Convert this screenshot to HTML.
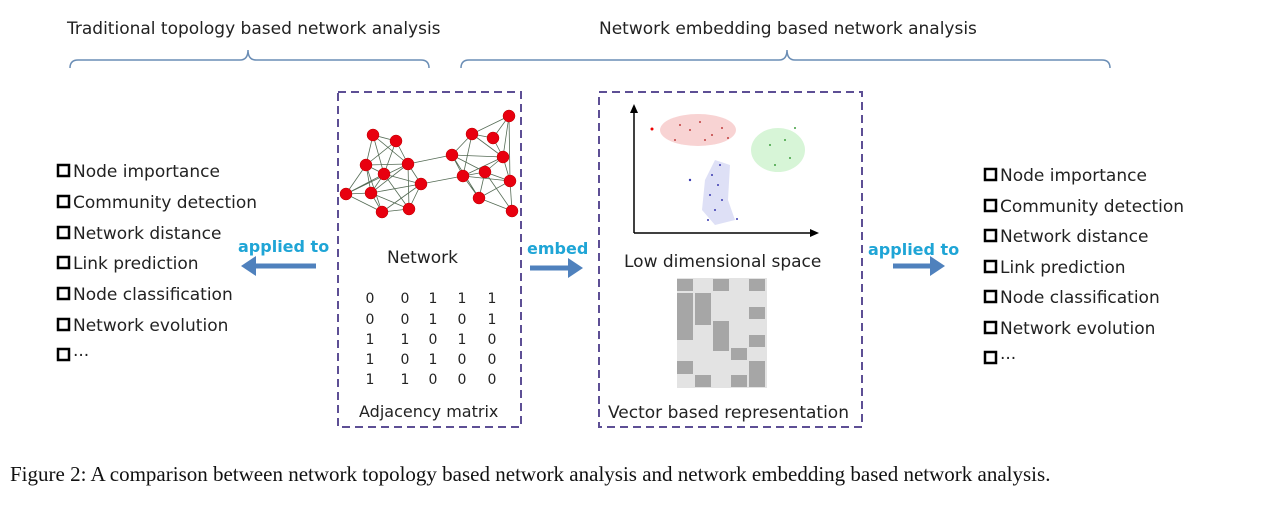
<!DOCTYPE html>
<html><head><meta charset="utf-8"><style>
body{margin:0;background:#fff;}
svg{display:block;}
text{font-family:"DejaVu Sans","Liberation Sans",sans-serif;}
</style></head><body>
<svg width="1261" height="509" viewBox="0 0 1261 509" xmlns="http://www.w3.org/2000/svg">
<defs>
<marker id="ah" markerWidth="4" markerHeight="4" refX="2" refY="2" orient="auto" markerUnits="strokeWidth"><path d="M0,0 L3,2 L0,4 z" fill="#4f81bd"/></marker>
</defs>
<text x="67" y="34" font-size="17" fill="#222">Traditional topology based network analysis</text>
<text x="599" y="34" font-size="17" fill="#222">Network embedding based network analysis</text>
<path d="M70,68 Q70,60 78,60 L240,60 Q248,60 248,50 Q248,60 256,60 L421,60 Q429,60 429,68" fill="none" stroke="#6a8db5" stroke-width="1.5"/>
<path d="M461,68 Q461,60 469,60 L779,60 Q787,60 787,50 Q787,60 795,60 L1102,60 Q1110,60 1110,68" fill="none" stroke="#6a8db5" stroke-width="1.5"/>

<g font-size="17" fill="#222">
<g id="l">
<text x="73" y="177">Node importance</text>
<text x="73" y="208">Community detection</text>
<text x="73" y="239">Network distance</text>
<text x="73" y="269">Link prediction</text>
<text x="73" y="300">Node classification</text>
<text x="73" y="331">Network evolution</text>
<text x="73" y="361">···</text>
</g>
<g fill="none" stroke="#000" stroke-width="2.5">
<rect x="58" y="165" width="11" height="11"/><rect x="58" y="196" width="11" height="11"/><rect x="58" y="227" width="11" height="11"/><rect x="58" y="257" width="11" height="11"/><rect x="58" y="288" width="11" height="11"/><rect x="58" y="319" width="11" height="11"/><rect x="58" y="349" width="11" height="11"/>
</g>
<text x="1000" y="181">Node importance</text>
<text x="1000" y="212">Community detection</text>
<text x="1000" y="242">Network distance</text>
<text x="1000" y="273">Link prediction</text>
<text x="1000" y="303">Node classification</text>
<text x="1000" y="334">Network evolution</text>
<text x="1000" y="364">···</text>
<g fill="none" stroke="#000" stroke-width="2.5">
<rect x="985" y="169" width="11" height="11"/><rect x="985" y="200" width="11" height="11"/><rect x="985" y="230" width="11" height="11"/><rect x="985" y="261" width="11" height="11"/><rect x="985" y="291" width="11" height="11"/><rect x="985" y="322" width="11" height="11"/><rect x="985" y="352" width="11" height="11"/>
</g>
</g>

<g font-size="16" font-weight="bold" fill="#1fa5d6">
<text x="238" y="252">applied to</text>
<text x="527" y="254">embed</text>
<text x="868" y="255">applied to</text>
</g>
<line x1="316" y1="266" x2="246" y2="266" stroke="#4f81bd" stroke-width="5" marker-end="url(#ah)"/>
<line x1="530" y1="268" x2="578" y2="268" stroke="#4f81bd" stroke-width="5" marker-end="url(#ah)"/>
<line x1="893" y1="266" x2="940" y2="266" stroke="#4f81bd" stroke-width="5" marker-end="url(#ah)"/>

<rect x="338" y="92" width="183" height="335" fill="none" stroke="#5d4f95" stroke-width="2" stroke-dasharray="8,5"/>
<rect x="599" y="92" width="263" height="335" fill="none" stroke="#5d4f95" stroke-width="2" stroke-dasharray="8,5"/>

<g stroke="#556b55" stroke-width="0.8">
<path d="M373,135L396,141M373,135L366,165M373,135L384,174M373,135L408,164M396,141L408,164M396,141L384,174M396,141L366,165M366,165L384,174M366,165L408,164M366,165L346,194M366,165L371,193M366,165L382,212M384,174L371,193M384,174L421,184M384,174L409,209M384,174L346,194M408,164L421,184M408,164L409,209M408,164L371,193M408,164L452,155M421,184L409,209M421,184L382,212M421,184L371,193M421,184L463,176M346,194L371,193M346,194L382,212M346,194L408,164M371,193L382,212M382,212L409,209M371,193L409,209"/>
<path d="M452,155L472,134M452,155L463,176M452,155L485,172M452,155L503,157M452,155L479,198M472,134L493,138M472,134L509,116M472,134L463,176M472,134L503,157M493,138L509,116M493,138L503,157M509,116L503,157M509,116L510,181M503,157L485,172M503,157L510,181M503,157L463,176M463,176L485,172M463,176L479,198M463,176L510,181M485,172L510,181M485,172L479,198M485,172L512,211M510,181L512,211M479,198L512,211M479,198L510,181M463,176L503,157"/>
</g>
<g fill="#e8000f" stroke="#b00" stroke-width="0.5">
<circle cx="373" cy="135" r="6"/><circle cx="396" cy="141" r="6"/><circle cx="366" cy="165" r="6"/><circle cx="384" cy="174" r="6"/><circle cx="408" cy="164" r="6"/><circle cx="421" cy="184" r="6"/><circle cx="346" cy="194" r="6"/><circle cx="371" cy="193" r="6"/><circle cx="382" cy="212" r="6"/><circle cx="409" cy="209" r="6"/><circle cx="452" cy="155" r="6"/><circle cx="472" cy="134" r="6"/><circle cx="493" cy="138" r="6"/><circle cx="509" cy="116" r="6"/><circle cx="503" cy="157" r="6"/><circle cx="463" cy="176" r="6"/><circle cx="485" cy="172" r="6"/><circle cx="510" cy="181" r="6"/><circle cx="479" cy="198" r="6"/><circle cx="512" cy="211" r="6"/>
</g>

<text x="387" y="263" font-size="17" fill="#222">Network</text>
<g font-size="14" fill="#222" text-anchor="middle">
<text x="370" y="303">0</text><text x="405" y="303">0</text><text x="433" y="303">1</text><text x="462" y="303">1</text><text x="492" y="303">1</text>
<text x="370" y="324">0</text><text x="405" y="324">0</text><text x="433" y="324">1</text><text x="462" y="324">0</text><text x="492" y="324">1</text>
<text x="370" y="344">1</text><text x="405" y="344">1</text><text x="433" y="344">0</text><text x="462" y="344">1</text><text x="492" y="344">0</text>
<text x="370" y="364">1</text><text x="405" y="364">0</text><text x="433" y="364">1</text><text x="462" y="364">0</text><text x="492" y="364">0</text>
<text x="370" y="384">1</text><text x="405" y="384">1</text><text x="433" y="384">0</text><text x="462" y="384">0</text><text x="492" y="384">0</text>
</g>
<text x="359" y="417" font-size="16" fill="#222">Adjacency matrix</text>

<!-- scatter -->
<line x1="634" y1="233" x2="634" y2="111" stroke="#000" stroke-width="1.5"/>
<path d="M630,113 L634,104 L638,113z"/>
<line x1="634" y1="233" x2="812" y2="233" stroke="#000" stroke-width="1.5"/>
<path d="M810,229 L819,233 L810,237z"/>
<ellipse cx="698" cy="130" rx="38" ry="16" fill="#f6c8c8" opacity="0.8"/>
<ellipse cx="778" cy="150" rx="27" ry="22" fill="#cdf3cd" opacity="0.8"/>
<path d="M715,160 L730,165 L728,200 L735,220 L715,225 L702,210 L705,180z" fill="#d6d8f4" opacity="0.8"/>
<g fill="#c04040"><circle cx="680" cy="125" r="1"/><circle cx="690" cy="130" r="1"/><circle cx="700" cy="122" r="1"/><circle cx="712" cy="135" r="1"/><circle cx="722" cy="128" r="1"/><circle cx="675" cy="140" r="1"/><circle cx="705" cy="140" r="1"/><circle cx="728" cy="138" r="1"/></g>
<circle cx="652" cy="129" r="1.5" fill="#e00"/>
<g fill="#3a3ab0"><circle cx="712" cy="175" r="1"/><circle cx="718" cy="185" r="1"/><circle cx="710" cy="195" r="1"/><circle cx="722" cy="200" r="1"/><circle cx="715" cy="210" r="1"/><circle cx="708" cy="220" r="1"/><circle cx="720" cy="165" r="1"/><circle cx="690" cy="180" r="1.2"/><circle cx="737" cy="219" r="1"/></g>
<g fill="#40a040"><circle cx="770" cy="145" r="1"/><circle cx="785" cy="140" r="1"/><circle cx="790" cy="158" r="1"/><circle cx="775" cy="165" r="1"/><circle cx="795" cy="128" r="1"/></g>
<text x="624" y="267" font-size="17" fill="#222">Low dimensional space</text>

<!-- vector grid -->
<rect x="677" y="278" width="90" height="110" fill="#e3e3e3"/>
<g fill="#a6a6a6">
<rect x="677" y="279" width="16" height="12"/><rect x="713" y="279" width="16" height="12"/><rect x="749" y="279" width="16" height="12"/>
<rect x="677" y="293" width="16" height="47"/><rect x="695" y="293" width="16" height="32"/>
<rect x="749" y="307" width="16" height="12"/>
<rect x="713" y="321" width="16" height="30"/>
<rect x="749" y="335" width="16" height="12"/>
<rect x="731" y="348" width="16" height="12"/>
<rect x="677" y="361" width="16" height="13"/><rect x="749" y="361" width="16" height="26"/>
<rect x="695" y="375" width="16" height="12"/><rect x="731" y="375" width="16" height="12"/>
</g>
<text x="608" y="418" font-size="17" fill="#222">Vector based representation</text>

<text x="10" y="481" font-size="21" fill="#111" font-family="Liberation Serif, serif" style="font-family:'Liberation Serif',serif">Figure 2: A comparison between network topology based network analysis and network embedding based network analysis.</text>
</svg>
</body></html>
